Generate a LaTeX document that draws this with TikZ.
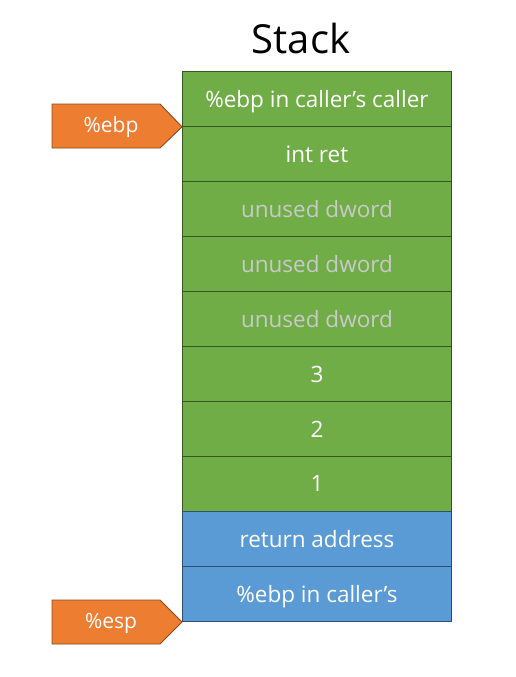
\documentclass[tikz,border=0pt]{standalone}
\usepackage{fontspec}
\setmainfont{Open Sans}
\definecolor{gfill}{HTML}{70AD47}
\definecolor{gdraw}{HTML}{375623}
\definecolor{bfill}{HTML}{5B9BD5}
\definecolor{bdraw}{HTML}{2F4F6F}
\definecolor{ofill}{HTML}{ED7D31}
\definecolor{odraw}{HTML}{8C4A1C}
\definecolor{ugrey}{HTML}{C9C9C9}
\begin{document}
\begin{tikzpicture}[x=1pt,y=-1pt,
  cell/.style={draw=gdraw,fill=gfill,line width=0.9pt,minimum width=269pt,minimum height=55pt,anchor=north west,inner sep=0pt,text=white,font=\fontsize{22.5}{27}\selectfont,text depth=0pt},
  bcell/.style={cell,draw=bdraw,fill=bfill},
  ucell/.style={cell,text=ugrey},
  ptr/.style={draw=odraw,fill=ofill,line width=0.9pt},
  ptrtext/.style={text=white,font=\fontsize{21}{25}\selectfont}]
\useasboundingbox (0,0) rectangle (516,677);
\node[font=\fontsize{40}{48}\selectfont] (title) at (301,39) {Stack};
\node[cell] (c1) at (182,71) {\%ebp in caller’s caller};
\node[cell] (c2) at (182,126) {int ret};
\node[ucell] (c3) at (182,181) {unused dword};
\node[ucell] (c4) at (182,236) {unused dword};
\node[ucell] (c5) at (182,291) {unused dword};
\node[cell] (c6) at (182,346) {3};
\node[cell] (c7) at (182,401) {2};
\node[cell] (c8) at (182,456) {1};
\node[bcell] (c9) at (182,511) {return address};
\node[bcell] (c10) at (182,566) {\%ebp in caller’s};
\draw[ptr] (52,104) -- (160,104) -- (c1.south west) -- (160,148) -- (52,148) -- cycle;
\node[ptrtext] (ebp) at (111,127) {\%ebp};
\draw[ptr] (52,600) -- (160,600) -- (c10.south west) -- (160,644) -- (52,644) -- cycle;
\node[ptrtext] (esp) at (111,623) {\%esp};
\end{tikzpicture}
\end{document}
